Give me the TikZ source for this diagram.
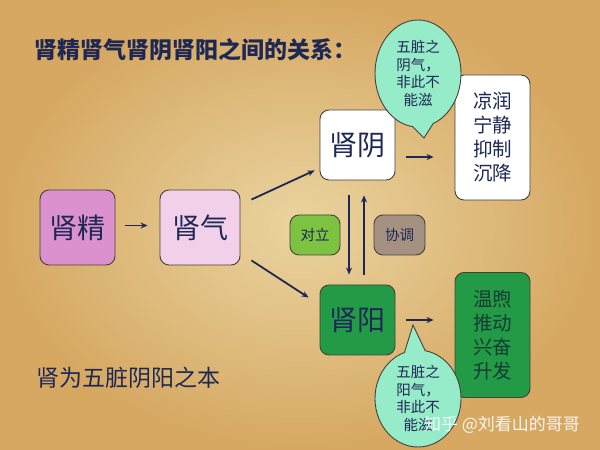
\documentclass[tikz,border=0pt]{standalone}
\usepackage{fontspec}
\newfontfamily\cjk{Noto Sans CJK SC}
\usetikzlibrary{shapes.callouts,arrows.meta}
\definecolor{navy}{RGB}{30,40,85}
\definecolor{boxline}{RGB}{70,65,60}
\definecolor{jingc}{RGB}{218,145,205}
\definecolor{qic}{RGB}{243,208,233}
\definecolor{yangc}{RGB}{35,155,70}
\definecolor{duic}{RGB}{125,195,65}
\definecolor{xiec}{RGB}{165,145,130}
\definecolor{mint}{RGB}{150,235,200}
\definecolor{dgreen}{RGB}{20,60,50}
\definecolor{bgin}{RGB}{234,212,160}
\definecolor{bgout}{RGB}{214,168,98}
\begin{document}
\begin{tikzpicture}[x=1pt,y=1pt,
  box/.style={draw=boxline, line width=0.9pt, rounded corners=9pt, inner sep=0pt},
  big/.style={font=\cjk\fontsize{28}{30}\selectfont, text=navy},
  side/.style={box, minimum width=75pt, minimum height=125pt, align=center, font=\cjk\fontsize{19.5}{24}\selectfont},
  small/.style={box, minimum width=50pt, minimum height=40pt, font=\cjk\fontsize{14.5}{16}\selectfont, text=navy},
  bubble/.style={ellipse callout, draw=boxline, line width=0.9pt, fill=mint, inner sep=0pt, align=center, font=\cjk\fontsize{14.5}{17.5}\selectfont, text=navy, callout pointer arc=28},
  arr/.style={draw=navy, line width=1.8pt, -{Stealth[length=7pt,width=6pt]}}
]
\useasboundingbox (0,0) rectangle (600,450);
\shade[inner color=bgin, outer color=bgout] (0,0) rectangle (600,450);

\node[anchor=west, font=\cjk\bfseries\fontsize{23}{25}\selectfont, text=navy] (title) at (31,400) {肾精肾气肾阴肾阳之间的关系：};
\node[anchor=west, font=\cjk\fontsize{23}{25}\selectfont, text=navy] (base) at (33,72) {肾为五脏阴阳之本};

\node[box, fill=jingc, minimum width=75pt, minimum height=75pt, big] (jing) at (77.5,222.5) {肾精};
\node[box, fill=qic, minimum width=80pt, minimum height=75pt, big] (qi) at (200,222.5) {肾气};
\node[box, fill=white, minimum width=75pt, minimum height=70pt, big] (yin) at (357.5,305) {肾阴};
\node[box, fill=yangc, minimum width=75pt, minimum height=70pt, big] (yang) at (357.5,130) {肾阳};
\node[side, fill=white, text=navy] (rtop) at (492.5,312.5) {凉润\\宁静\\抑制\\沉降};
\node[side, fill=yangc, text=dgreen] (rbot) at (492.5,115) {温煦\\推动\\兴奋\\升发};
\node[small, fill=duic] (dui) at (315,215) {对立};
\node[small, fill=xiec, minimum width=51pt] (xie) at (399.5,215) {协调};

\draw[arr] ([xshift=10pt,yshift=2pt]jing.east) -- ([xshift=-12pt,yshift=2pt]qi.west);
\draw[arr] ([xshift=11pt,yshift=-10pt]qi.north east) -- ([xshift=-5pt,yshift=10pt]yin.south west);
\draw[arr] ([xshift=11pt,yshift=5pt]qi.south east) -- ([xshift=-11pt,yshift=-13pt]yang.north west);
\draw[arr] ([xshift=-8.5pt,yshift=-15pt]yin.south) -- ([xshift=-8.5pt,yshift=10pt]yang.north);
\draw[arr] ([xshift=6.5pt,yshift=10pt]yang.north) -- ([xshift=6.5pt,yshift=-15pt]yin.south);
\draw[arr] ([xshift=11pt,yshift=-12pt]yin.east) -- ([xshift=-21pt,yshift=-19.5pt]rtop.west);
\draw[arr] ([xshift=11pt]yang.east) -- ([xshift=-21pt,yshift=15pt]rbot.west);

\node[bubble, minimum width=86pt, minimum height=107pt, callout absolute pointer={(424,312)}] (b1) at (418,376.5) {五脏之\\阴气，\\非此不\\能滋};
\node[bubble, minimum width=86pt, minimum height=97pt, callout absolute pointer={(413,125)}] (b2) at (418,51.5) {五脏之\\阳气，\\非此不\\能滋};

\node[text=white, font=\cjk\fontsize{17}{18}\selectfont, opacity=0.9] (wm) at (502,25) {知乎 @刘看山的哥哥};
\end{tikzpicture}
\end{document}
